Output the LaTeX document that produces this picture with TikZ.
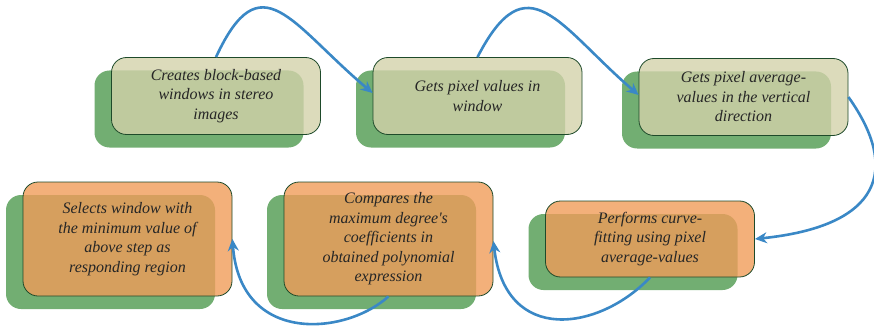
\documentclass[tikz,border=0pt]{standalone}
\usepackage{fontspec}
\setmainfont{Liberation Serif}
\usetikzlibrary{arrows.meta,shadows}
\definecolor{shgreen}{RGB}{114,174,114}
\definecolor{topfill}{RGB}{211,210,170}
\definecolor{botfill}{RGB}{240,156,89}
\definecolor{edgegreen}{RGB}{30,74,42}
\definecolor{flowblue}{RGB}{58,136,198}
\definecolor{inkgray}{RGB}{38,38,38}

\begin{document}
\begin{tikzpicture}[x=1pt,y=1pt,
  stepnode/.style={draw=edgegreen,line width=.8pt,rounded corners=15pt,fill opacity=.8,
    text opacity=1,minimum width=209pt,inner sep=0pt,align=center,text=inkgray,
    font=\fontsize{16}{19.5}\selectfont\itshape,
    general shadow={fill=shgreen,fill opacity=1,draw=none,shadow xshift=-17pt,shadow yshift=-13pt}},
  upper/.style={stepnode,fill=topfill,minimum height=77pt},
  lower/.style={stepnode,fill=botfill},
  flow/.style={draw=flowblue,line width=2.6pt,-{Stealth[length=12pt,width=11pt]}}]
\useasboundingbox (0,0) rectangle (874,-326);
% upper row
\node[upper] (blocks) at (216,-96) {Creates block-based\\windows in stereo\\images};
\node[upper] (pixels) at (477.5,-96) {Gets pixel values in\\window};
\node[upper] (average) at (743.5,-97) {Gets pixel average-\\values in the vertical\\direction};
% lower row
\node[lower,minimum height=76pt] (fitting) at (650,-239) {Performs curve-\\fitting using pixel\\average-values};
\node[lower,minimum height=114pt] (compare) at (388.5,-239) {Compares the\\maximum degree\textquotesingle s\\coefficients in\\obtained polynomial\\expression};
\node[lower,minimum height=114pt] (select) at (127.5,-239) {Selects window with\\the minimum value of\\above step as\\responding region};
% connectors
\draw[flow] (blocks.north) .. controls +(45,97) and +(-82,69) .. ([yshift=3pt]pixels.west);
\draw[flow] (pixels.north) .. controls +(50,97) and +(-80,69) .. ([yshift=2pt]average.west);
\draw[flow] (average.east) .. controls +(52,-73) and +(126,13) .. (fitting.east);
\draw[flow] (fitting.south) .. controls +(-50,-53) and +(12,-105) .. ([yshift=-2pt]compare.east);
\draw[flow] (compare.south) .. controls +(-43,-39) and +(8,-106) .. (select.east);
\end{tikzpicture}
\end{document}
